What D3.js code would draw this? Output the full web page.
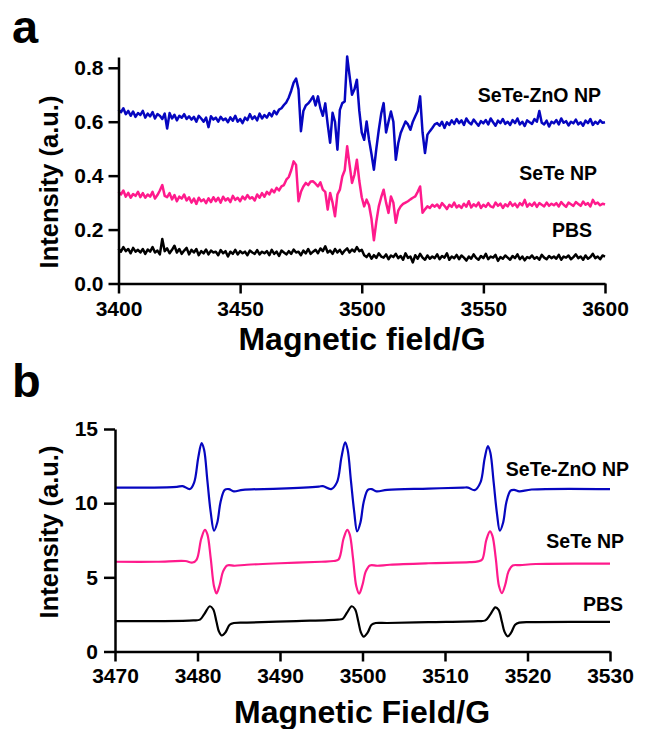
<!DOCTYPE html>
<html>
<head>
<meta charset="utf-8">
<script src="https://cdn.jsdelivr.net/npm/d3@7"></script>
<style>
  body { margin: 0; background: #fff; }
  svg { display: block; font-family: "Liberation Sans", Arial, sans-serif; font-weight: bold; }
  .axis path, .axis line { stroke: #000; stroke-width: 2.5; }
  .axis text { font-size: 21px; font-weight: bold; fill: #000; font-family: "Liberation Sans", Arial, sans-serif; }
</style>
</head>
<body>
<script>
// ---- panel a: EPR spectra, 3400-3600 G, sampled every 1 G ----
const fieldA = d3.range(3400, 3601, 1);
const ticksAX = [3400, 3450, 3500, 3550, 3600];
const ticksAY = [0.0, 0.2, 0.4, 0.6, 0.8];

const znoA = [
  0.645,0.635,0.650,0.628,0.640,0.622,0.638,0.618,0.632,0.625,
  0.640,0.615,0.630,0.620,0.636,0.612,0.628,0.622,0.610,0.630,
  0.575,0.632,0.612,0.626,0.605,0.622,0.615,0.628,0.610,0.620,
  0.608,0.618,0.600,0.622,0.612,0.600,0.615,0.580,0.620,0.608,
  0.615,0.600,0.618,0.606,0.612,0.598,0.616,0.604,0.622,0.600,
  0.610,0.595,0.615,0.606,0.628,0.610,0.620,0.605,0.630,0.612,
  0.625,0.615,0.632,0.620,0.640,0.628,0.645,0.650,0.662,0.672,
  0.690,0.715,0.745,0.760,0.720,0.565,0.640,0.660,0.668,0.680,
  0.694,0.660,0.694,0.650,0.622,0.668,0.590,0.522,0.633,0.600,
  0.496,0.644,0.669,0.675,0.842,0.770,0.700,0.720,0.756,0.640,
  0.560,0.533,0.601,0.533,0.480,0.422,0.500,0.570,0.630,0.669,
  0.560,0.600,0.638,0.600,0.459,0.520,0.558,0.580,0.601,0.590,
  0.570,0.600,0.620,0.640,0.694,0.560,0.484,0.552,0.565,0.577,
  0.590,0.595,0.585,0.600,0.577,0.598,0.588,0.605,0.592,0.610,
  0.595,0.605,0.588,0.612,0.598,0.590,0.608,0.596,0.585,0.602,
  0.594,0.606,0.590,0.612,0.598,0.585,0.604,0.595,0.610,0.592,
  0.600,0.588,0.606,0.595,0.612,0.590,0.600,0.584,0.605,0.598,
  0.592,0.610,0.600,0.640,0.596,0.590,0.604,0.582,0.600,0.594,
  0.606,0.590,0.612,0.596,0.602,0.586,0.600,0.594,0.608,0.590,
  0.598,0.585,0.604,0.595,0.610,0.588,0.600,0.592,0.605,0.596,
  0.598];

const seteA = [
  0.340,0.330,0.345,0.322,0.336,0.318,0.332,0.325,0.340,0.320,
  0.335,0.318,0.330,0.322,0.340,0.315,0.328,0.345,0.365,0.325,
  0.320,0.335,0.312,0.328,0.305,0.322,0.315,0.330,0.308,0.320,
  0.300,0.315,0.295,0.318,0.305,0.312,0.298,0.316,0.302,0.320,
  0.305,0.318,0.300,0.322,0.308,0.316,0.302,0.325,0.310,0.318,
  0.305,0.322,0.312,0.328,0.315,0.320,0.308,0.330,0.318,0.335,
  0.322,0.340,0.330,0.348,0.338,0.355,0.345,0.360,0.365,0.385,
  0.395,0.420,0.453,0.440,0.305,0.340,0.360,0.373,0.365,0.378,
  0.379,0.370,0.360,0.375,0.348,0.340,0.274,0.336,0.300,0.249,
  0.330,0.348,0.397,0.420,0.509,0.440,0.373,0.404,0.459,0.380,
  0.320,0.286,0.311,0.290,0.240,0.160,0.230,0.286,0.320,0.348,
  0.300,0.262,0.323,0.300,0.225,0.270,0.286,0.295,0.300,0.305,
  0.312,0.318,0.323,0.340,0.360,0.262,0.275,0.286,0.280,0.292,
  0.285,0.293,0.280,0.298,0.288,0.276,0.292,0.284,0.300,0.282,
  0.290,0.280,0.296,0.285,0.305,0.282,0.294,0.286,0.300,0.280,
  0.292,0.284,0.298,0.286,0.282,0.300,0.288,0.296,0.280,0.294,
  0.286,0.302,0.288,0.296,0.283,0.298,0.290,0.310,0.285,0.296,
  0.288,0.300,0.284,0.298,0.292,0.286,0.300,0.288,0.296,0.290,
  0.298,0.286,0.302,0.292,0.284,0.300,0.294,0.288,0.302,0.295,
  0.288,0.304,0.292,0.298,0.286,0.310,0.295,0.300,0.290,0.296,
  0.293];

const pbsA = [
  0.130,0.118,0.135,0.120,0.128,0.112,0.132,0.118,0.125,0.115,
  0.128,0.110,0.126,0.118,0.135,0.115,0.122,0.108,0.165,0.120,
  0.130,0.112,0.125,0.140,0.115,0.128,0.110,0.122,0.132,0.108,
  0.125,0.115,0.128,0.105,0.120,0.112,0.126,0.108,0.122,0.115,
  0.118,0.105,0.124,0.112,0.120,0.100,0.118,0.110,0.125,0.108,
  0.120,0.112,0.118,0.105,0.122,0.115,0.110,0.124,0.108,0.118,
  0.112,0.120,0.105,0.125,0.110,0.118,0.102,0.122,0.115,0.108,
  0.120,0.110,0.126,0.115,0.118,0.105,0.122,0.112,0.128,0.110,
  0.118,0.125,0.112,0.130,0.120,0.138,0.115,0.122,0.110,0.128,
  0.115,0.125,0.110,0.122,0.130,0.115,0.126,0.118,0.135,0.120,
  0.125,0.105,0.098,0.110,0.092,0.105,0.095,0.112,0.100,0.096,
  0.108,0.090,0.104,0.098,0.110,0.094,0.102,0.088,0.112,0.095,
  0.100,0.078,0.105,0.092,0.110,0.096,0.088,0.104,0.092,0.100,
  0.094,0.108,0.090,0.102,0.096,0.112,0.088,0.100,0.094,0.106,
  0.090,0.104,0.096,0.085,0.100,0.092,0.108,0.095,0.088,0.102,
  0.094,0.110,0.090,0.100,0.096,0.106,0.084,0.098,0.092,0.104,
  0.096,0.088,0.102,0.094,0.108,0.090,0.100,0.086,0.098,0.094,
  0.104,0.092,0.098,0.088,0.106,0.096,0.090,0.102,0.094,0.100,
  0.092,0.106,0.088,0.100,0.096,0.104,0.090,0.098,0.108,0.094,
  0.100,0.088,0.104,0.092,0.098,0.110,0.094,0.100,0.090,0.104,
  0.100];

// ---- panel b: [field G, intensity] ----
const ticksBX = [3470, 3480, 3490, 3500, 3510, 3520, 3530];
const ticksBY = [0, 5, 10, 15];

const znoB = [
  [3470,11.05],[3474,11.05],[3477.5,11.1],[3478.2,11.15],[3479.1,10.95],[3479.6,11.4],
  [3480.1,13.1],[3480.5,14.05],[3480.8,13.6],[3481.2,11.5],[3481.6,9.4],[3482.0,8.15],
  [3482.4,8.7],[3482.8,10.1],[3483.3,10.9],[3483.8,10.95],[3484.4,10.8],[3485.5,10.9],
  [3490,10.98],[3494.7,11.12],[3495.2,11.15],[3496.2,10.95],[3496.9,11.4],[3497.45,13.1],
  [3497.9,14.1],[3498.2,13.6],[3498.6,11.5],[3499.0,9.4],[3499.35,8.1],[3499.75,8.7],
  [3500.15,10.1],[3500.65,10.9],[3501.1,10.95],[3501.7,10.8],[3503,10.9],[3508,10.98],
  [3512.2,11.05],[3512.8,11.05],[3513.6,10.88],[3514.3,11.4],[3514.8,13.0],[3515.2,13.85],
  [3515.5,13.4],[3515.9,11.4],[3516.3,9.3],[3516.65,8.15],[3517.05,8.7],[3517.45,10.1],
  [3517.95,10.85],[3518.4,10.9],[3519.0,10.8],[3520.5,10.92],[3530,10.95]];

const seteB = [
  [3470,6.05],[3475,6.05],[3478.5,6.1],[3479.4,6.0],[3479.9,6.2],[3480.45,7.6],
  [3480.9,8.2],[3481.2,7.9],[3481.6,6.3],[3482.0,4.4],[3482.3,3.92],[3482.7,4.5],
  [3483.1,5.4],[3483.6,5.8],[3484.5,5.78],[3486,5.85],[3490,5.95],[3495,6.05],
  [3496.5,6.1],[3497.1,6.2],[3497.7,7.6],[3498.15,8.2],[3498.45,7.9],[3498.85,6.3],
  [3499.25,4.4],[3499.6,3.9],[3500.0,4.5],[3500.4,5.4],[3500.9,5.8],[3501.8,5.78],
  [3503.3,5.85],[3508,5.95],[3513,6.02],[3514.0,6.08],[3514.5,6.2],[3515.0,7.5],
  [3515.45,8.1],[3515.75,7.8],[3516.15,6.3],[3516.55,4.4],[3516.9,3.94],[3517.3,4.5],
  [3517.7,5.4],[3518.2,5.8],[3519.1,5.82],[3521,5.9],[3530,5.92]];

const pbsB = [
  [3470,2.05],[3476,2.05],[3479.5,2.1],[3480.3,2.15],[3480.8,2.5],[3481.5,3.05],
  [3481.9,2.85],[3482.3,2.0],[3482.6,1.35],[3482.95,1.08],[3483.4,1.3],[3483.9,1.8],
  [3484.4,1.92],[3486,1.95],[3492,2.05],[3497,2.15],[3497.6,2.2],[3498.1,2.6],
  [3498.7,3.05],[3499.1,2.85],[3499.5,2.0],[3499.8,1.3],[3500.15,1.0],[3500.6,1.25],
  [3501.1,1.8],[3501.6,1.92],[3503,1.92],[3508,1.98],[3514,2.05],[3514.9,2.1],
  [3515.5,2.5],[3516.1,2.98],[3516.5,2.8],[3516.9,2.0],[3517.2,1.35],[3517.6,1.02],
  [3518.0,1.25],[3518.5,1.8],[3519.0,1.95],[3521,1.98],[3530,2.0]];

const seriesNames = ["SeTe-ZnO NP", "SeTe NP", "PBS"];
const colors = ["#0606c0", "#ff1a8c", "#000000"];

const width = 647, height = 729;

const svg = d3.select("body").append("svg")
  .attr("width", width)
  .attr("height", height);

// ---------- panel a ----------
const xA = d3.scaleLinear().domain([3400, 3600]).range([118.5, 605]);
const yA = d3.scaleLinear().domain([0, 0.84]).range([283.5, 57]);

const lineA = data => d3.line()
  .x((d, i) => xA(fieldA[i]))
  .y(d => yA(d))(data);

[pbsA, seteA, znoA].forEach((s, k) => {
  svg.append("path")
    .attr("d", lineA(s))
    .attr("fill", "none")
    .attr("stroke", colors[2 - k])
    .attr("stroke-width", 2.5)
    .attr("stroke-linejoin", "round");
});

svg.append("g")
  .attr("class", "axis")
  .attr("transform", "translate(0," + yA(0) + ")")
  .call(d3.axisBottom(xA).tickValues(ticksAX).tickFormat(d3.format("d")).tickSize(10).tickSizeOuter(0).tickPadding(8))

svg.append("g")
  .attr("class", "axis")
  .attr("transform", "translate(" + xA(3400) + ",0)")
  .call(d3.axisLeft(yA).tickValues(ticksAY).tickFormat(d3.format(".1f")).tickSize(10).tickSizeOuter(0).tickPadding(5))

const labelsA = [[601, 101.5], [597, 180], [592, 237]];
labelsA.forEach((p, i) => {
  svg.append("text")
    .attr("x", p[0]).attr("y", p[1])
    .attr("text-anchor", "end")
    .attr("font-size", 19.5)
    .text(seriesNames[i]);
});

svg.append("text")
  .attr("transform", "translate(58,182) rotate(-90)")
  .attr("text-anchor", "middle")
  .attr("font-size", 25.5)
  .text("Intensity (a.u.)");

svg.append("text")
  .attr("x", 362).attr("y", 350)
  .attr("text-anchor", "middle")
  .attr("font-size", 32)
  .text("Magnetic field/G");

svg.append("text")
  .attr("x", 12).attr("y", 43)
  .attr("font-size", 47)
  .text("a");

// ---------- panel b ----------
const xB = d3.scaleLinear().domain([3470, 3530]).range([115, 610]);
const yB = d3.scaleLinear().domain([0, 15]).range([651.5, 429]);

const lineB = d3.line()
  .x(d => xB(d[0]))
  .y(d => yB(d[1]))
  .curve(d3.curveCatmullRom.alpha(0.5));

[pbsB, seteB, znoB].forEach((s, k) => {
  svg.append("path")
    .attr("d", lineB(s))
    .attr("fill", "none")
    .attr("stroke", colors[2 - k])
    .attr("stroke-width", 2.2);
});

svg.append("g")
  .attr("class", "axis")
  .attr("transform", "translate(0," + yB(0) + ")")
  .call(d3.axisBottom(xB).tickValues(ticksBX).tickFormat(d3.format("d")).tickSize(10).tickSizeOuter(0).tickPadding(7))

svg.append("g")
  .attr("class", "axis")
  .attr("transform", "translate(" + xB(3470) + ",0)")
  .call(d3.axisLeft(yB).tickValues(ticksBY).tickSize(11).tickSizeOuter(0).tickPadding(6))

const labelsB = [[629, 475.5], [624, 548], [623, 610.5]];
labelsB.forEach((p, i) => {
  svg.append("text")
    .attr("x", p[0]).attr("y", p[1])
    .attr("text-anchor", "end")
    .attr("font-size", 19.5)
    .text(seriesNames[i]);
});

svg.append("text")
  .attr("transform", "translate(58,532) rotate(-90)")
  .attr("text-anchor", "middle")
  .attr("font-size", 25.5)
  .text("Intensity (a.u.)");

svg.append("text")
  .attr("x", 362).attr("y", 723)
  .attr("text-anchor", "middle")
  .attr("font-size", 32)
  .text("Magnetic Field/G");

svg.append("text")
  .attr("x", 12).attr("y", 397)
  .attr("font-size", 47)
  .text("b");
</script>
</body>
</html>
